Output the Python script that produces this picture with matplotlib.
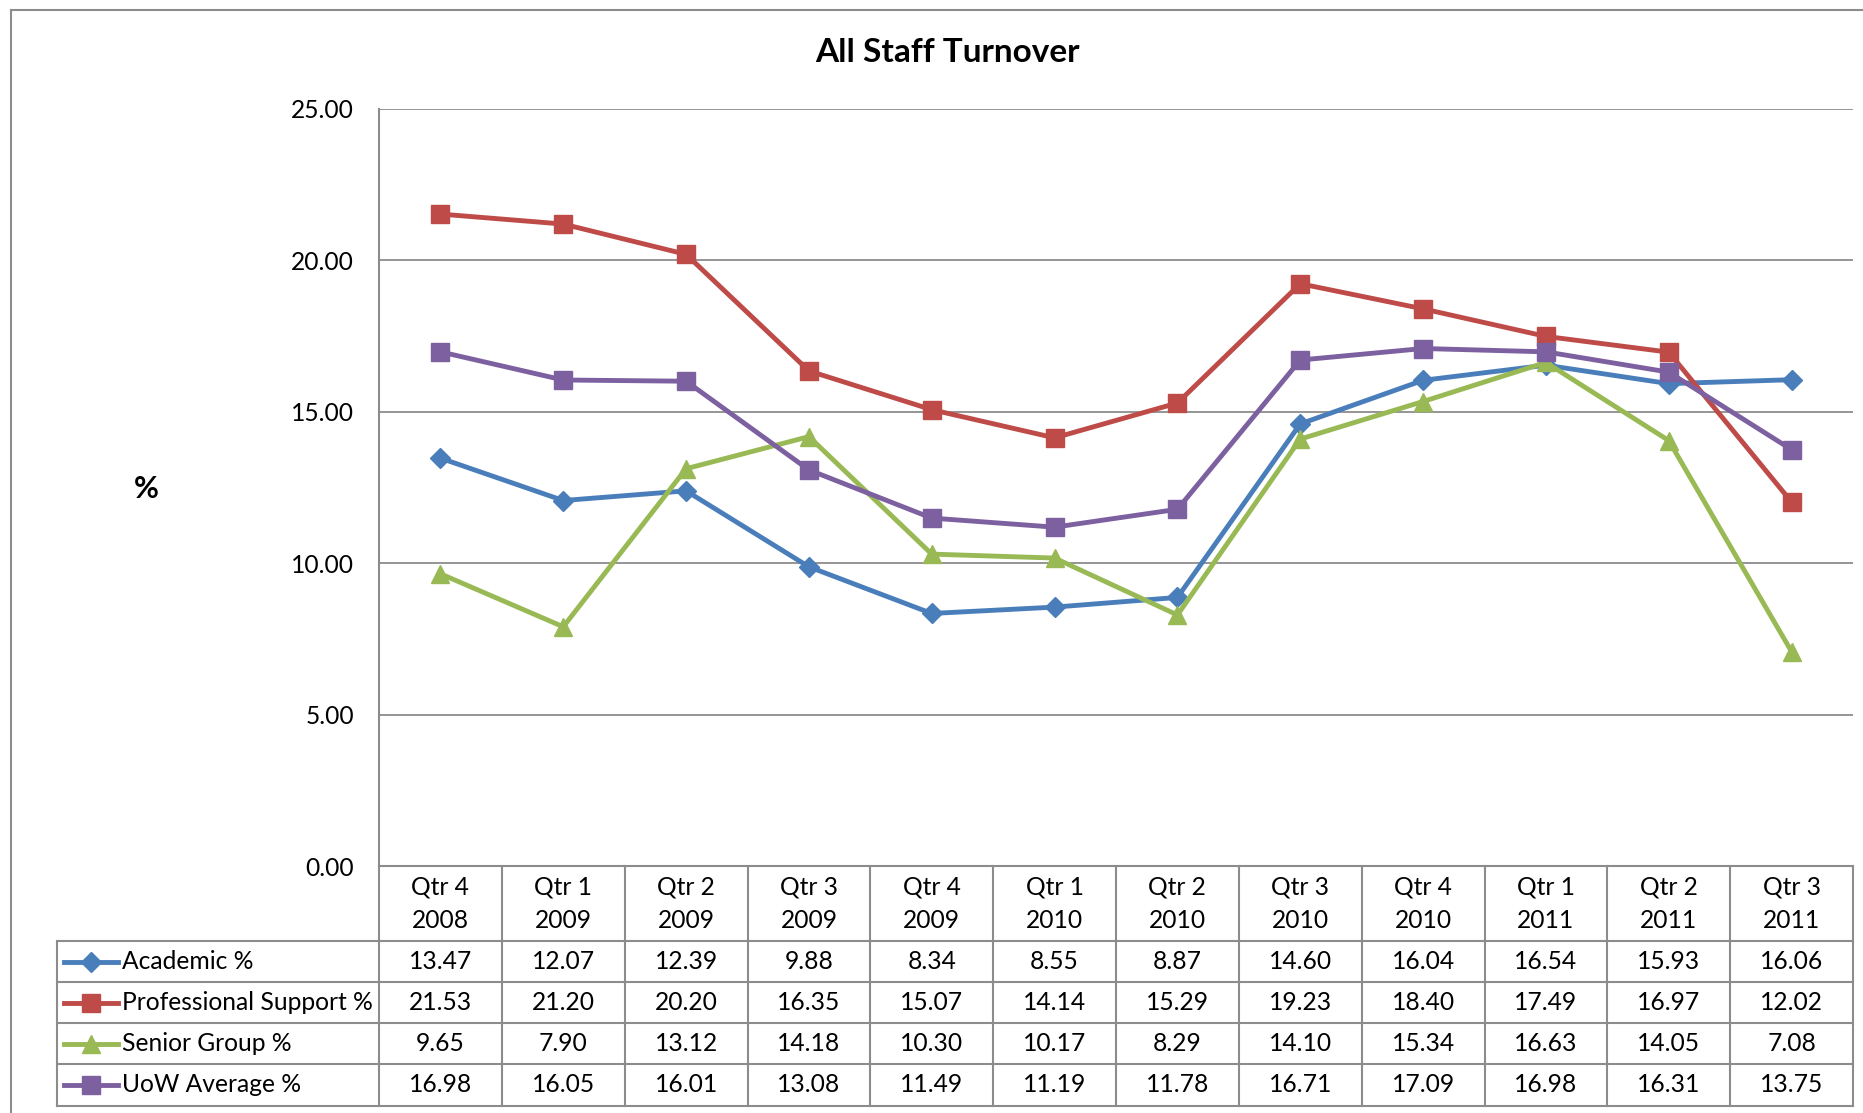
import matplotlib
matplotlib.use("Agg")
import matplotlib.pyplot as plt
from matplotlib.lines import Line2D

plt.rcParams['font.family'] = ['Lato', 'DejaVu Sans']

quarters = ["Qtr 4", "Qtr 1", "Qtr 2", "Qtr 3", "Qtr 4", "Qtr 1", "Qtr 2",
            "Qtr 3", "Qtr 4", "Qtr 1", "Qtr 2", "Qtr 3"]
years = ["2008", "2009", "2009", "2009", "2009", "2010", "2010",
         "2010", "2010", "2011", "2011", "2011"]

series_names = ["Academic %", "Professional Support %", "Senior Group %", "UoW Average %"]
academic = [13.47, 12.07, 12.39, 9.88, 8.34, 8.55, 8.87, 14.60, 16.04, 16.54, 15.93, 16.06]
professional = [21.53, 21.20, 20.20, 16.35, 15.07, 14.14, 15.29, 19.23, 18.40, 17.49, 16.97, 12.02]
senior = [9.65, 7.90, 13.12, 14.18, 10.30, 10.17, 8.29, 14.10, 15.34, 16.63, 14.05, 7.08]
uow = [16.98, 16.05, 16.01, 13.08, 11.49, 11.19, 11.78, 16.71, 17.09, 16.98, 16.31, 13.75]
series_values = [academic, professional, senior, uow]

colors = ["#4A7EBB", "#BE4B48", "#98B954", "#7D60A0"]
markers = ["D", "s", "^", "s"]
msizes = [10.5, 12.5, 13.5, 12.5]

W, H = 1863, 1113
fig = plt.figure(figsize=(W / 100, H / 100), dpi=100)

def fx(x):
    return x / W

def fy(y):
    return 1 - y / H

GRID = "#8C8C8C"
FS = 17.7
LW = 3.5

# outer border
fig.add_artist(Line2D([fx(11), fx(11)], [fy(10), fy(1113)], color=GRID, lw=1.5))
fig.add_artist(Line2D([fx(11), fx(1863)], [fy(10), fy(10)], color=GRID, lw=1.5))

left, right, top, bottom = 379, 1853, 109, 866
ax = fig.add_axes([fx(left), fy(bottom), fx(right - left), (bottom - top) / H])
n = len(quarters)
x = list(range(n))
for vals, c, m, ms, name in zip(series_values, colors, markers, msizes, series_names):
    ax.plot(x, vals, color=c, lw=LW, marker=m, markersize=ms, markeredgecolor=c,
            label=name, zorder=3)

ax.set_xlim(-0.5, n - 0.5)
ax.set_ylim(0, 25)
ax.set_yticks([0, 5, 10, 15, 20, 25])
ax.set_yticklabels([f"{v:.2f}" for v in [0, 5, 10, 15, 20, 25]], fontsize=FS)
ax.tick_params(axis='y', length=0, pad=18)
ax.set_xticks([])
ax.yaxis.grid(True, color=GRID, lw=1.3)
ax.set_axisbelow(True)
for s in ["top", "right", "bottom"]:
    ax.spines[s].set_visible(False)
ax.spines["left"].set_color(GRID)
ax.spines["left"].set_linewidth(1.5)

fig.text(fx(947), fy(53), "All Staff Turnover", ha="center", va="center",
         fontsize=24, fontweight="bold")
fig.text(fx(146), fy(489), "%", ha="center", va="center", fontsize=22, fontweight="bold")

# data table
colw = (right - left) / n
row_edges = [941, 982, 1023, 1064, 1106]
tbl_left = 57

def hline(x0, x1, y):
    fig.add_artist(Line2D([fx(x0), fx(x1)], [fy(y), fy(y)], color=GRID, lw=1.5))

def vline(x, y0, y1):
    fig.add_artist(Line2D([fx(x), fx(x)], [fy(y0), fy(y1)], color=GRID, lw=1.5))

hline(left, right, bottom)
for y in row_edges:
    hline(tbl_left, right, y)
for i in range(n + 1):
    vline(left + i * colw, bottom, row_edges[-1])
vline(tbl_left, row_edges[0], row_edges[-1])

for i in range(n):
    cx = left + (i + 0.5) * colw
    fig.text(fx(cx), fy(887), quarters[i], ha="center", va="center", fontsize=FS)
    fig.text(fx(cx), fy(920), years[i], ha="center", va="center", fontsize=FS)

for r, (vals, c, m, ms, name) in enumerate(zip(series_values, colors, markers, msizes, series_names)):
    cy = (row_edges[r] + row_edges[r + 1]) / 2
    fig.add_artist(Line2D([fx(64), fx(118)], [fy(cy), fy(cy)], color=c, lw=LW))
    fig.add_artist(Line2D([fx(91)], [fy(cy)], color=c, marker=m, markersize=ms,
                          markeredgecolor=c, lw=0))
    fig.text(fx(122), fy(cy), name, ha="left", va="center", fontsize=FS)
    for i, v in enumerate(vals):
        cx = left + (i + 0.5) * colw
        fig.text(fx(cx), fy(cy), f"{v:.2f}", ha="center", va="center", fontsize=FS)

fig.savefig("out.png", dpi=100, facecolor="white")
